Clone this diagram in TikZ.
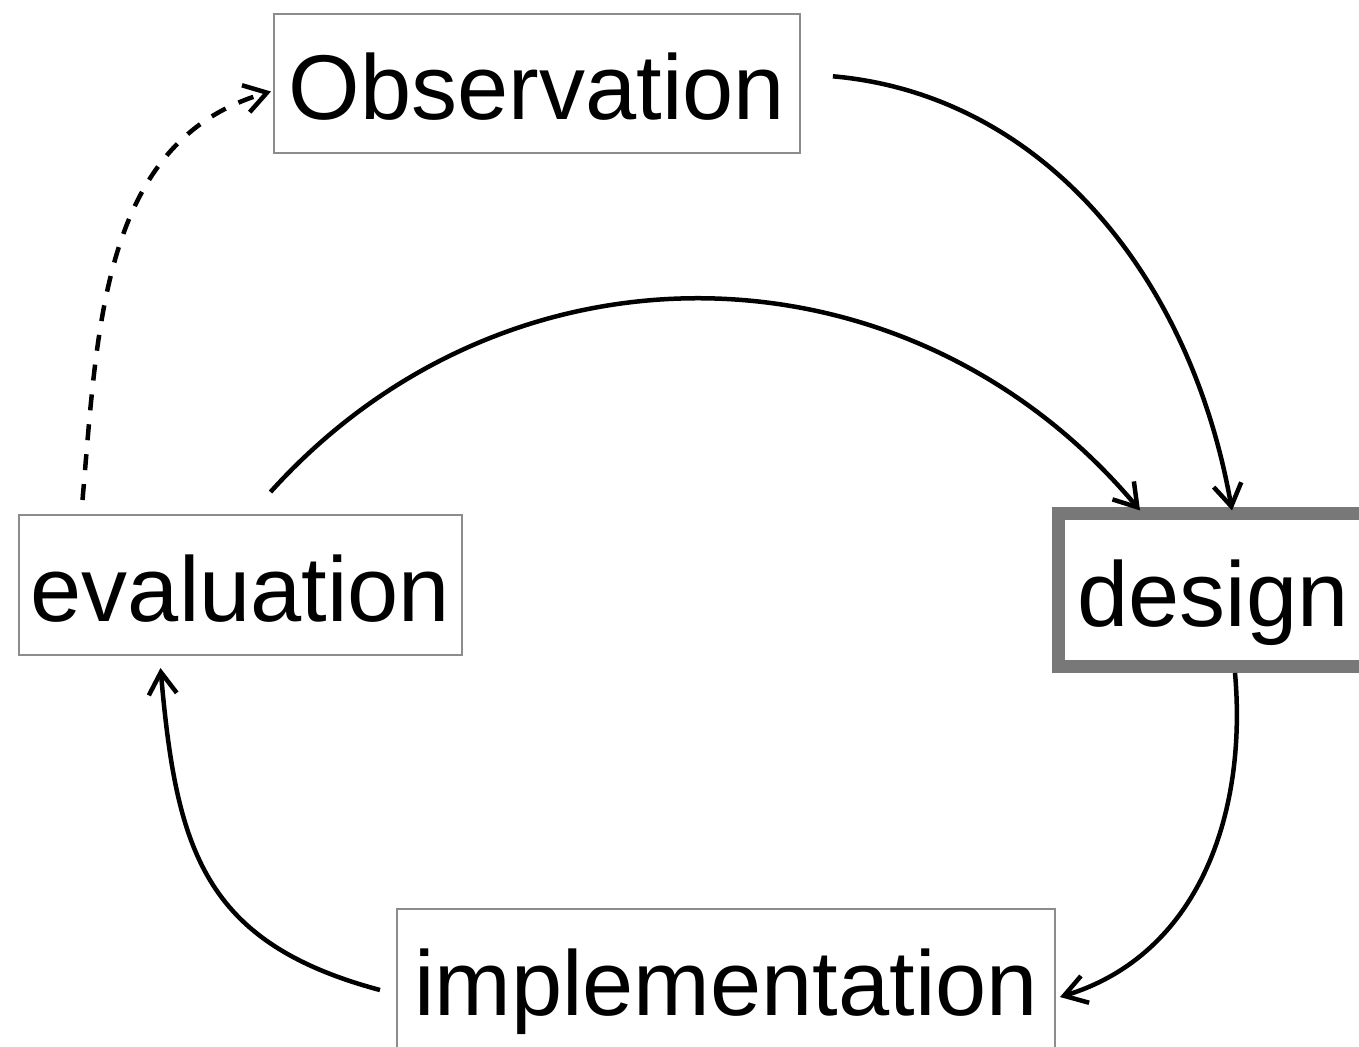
\documentclass[tikz,border=0pt]{standalone}
\usepackage{fontspec}
\setmainfont{Liberation Sans}
\usepackage{tikz}
\usetikzlibrary{positioning}
\usetikzlibrary{arrows.meta}
\definecolor{boxgray}{gray}{0.55}
\definecolor{designgray}{gray}{0.47}
\tikzset{
  stage/.style={draw=boxgray,line width=1pt,fill=white,inner sep=0pt,
    text height=36pt,text depth=0pt,font=\fontsize{46}{55}\selectfont},
  mainstage/.style={stage,draw=designgray,line width=6.5pt}
}
\begin{document}
\begin{tikzpicture}[x=0.5pt,y=-0.5pt,on grid,
    >={Straight Barb[length=11pt,width=14pt]}]
   \useasboundingbox (0,0) rectangle (1359,1046);
   \node[stage,minimum width=221.5pt,minimum height=70pt] (eval) at (240.5,585) {evaluation};
   \node[stage,minimum width=263pt,minimum height=69.5pt] (obs) [above right=250.75pt and 148.25pt of eval] {Observation};
   \node[mainstage,minimum width=154.5pt,minimum height=76.25pt] (design) [below right=2.6pt and 486.25pt of eval] {design};
   \node[stage,minimum width=329pt,minimum height=70pt] (impl) [below right=197pt and 242.75pt of eval] {implementation};
    \path[->,line width=2.25pt]
    ([yshift=5pt]obs.east) edge [out=-5,in=100,shorten <=16pt] ([xshift=9.5pt,yshift=-1.5pt]design.north)
    ([xshift=15pt,yshift=11pt]eval.north) edge [out=48,in=130,looseness=1.05] ([xshift=-36.5pt,yshift=-1.5pt]design.north)
    ([xshift=-79pt,yshift=7pt]eval.north) edge [out=85,in=196,dash pattern=on 8pt off 7pt] ([xshift=-1pt,yshift=-4pt]obs.west)
    ([xshift=11pt]design.south) edge [out=-85,in=17] ([xshift=2pt,yshift=-9pt]impl.east)
    ([xshift=-8pt,yshift=-5.5pt]impl.west) edge [out=165,in=-85,looseness=1.2] ([xshift=-40pt,yshift=-6pt]eval.south);
\end{tikzpicture}
\end{document}
